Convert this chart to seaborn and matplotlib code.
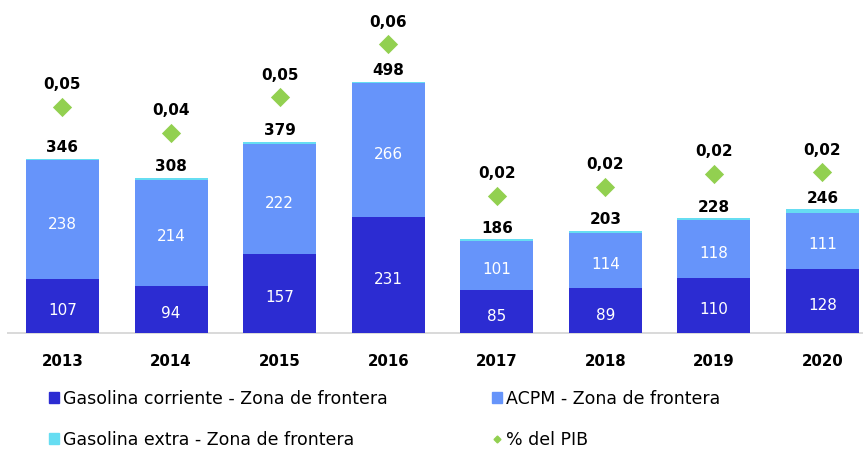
import matplotlib
matplotlib.use("Agg")
import matplotlib.pyplot as plt
import matplotlib.patches as mpatches
from matplotlib.lines import Line2D
import numpy as np
import seaborn as sns

sns.set_style("white")
plt.rcParams["font.family"] = ["DejaVu Sans"]
plt.rcParams["text.color"] = "black"
plt.rcParams["xtick.color"] = "black"

# Data
years = ["2013", "2014", "2015", "2016", "2017", "2018", "2019", "2020"]
corriente = [107, 94, 157, 231, 85, 89, 110, 128]
acpm = [238, 214, 222, 266, 101, 114, 118, 111]
extra = [3.5, 3.5, 3.5, 2.5, 3.5, 3.5, 3.5, 7.5]
totals = [346, 308, 379, 498, 186, 203, 228, 246]
pct_pib = [0.0452, 0.0372, 0.0483, 0.0648, 0.0176, 0.0202, 0.0243, 0.0248]

c_corr = "#2C2CD2"
c_acpm = "#6694FA"
c_extra = "#66DDF2"
c_pib = "#92D050"

# Cumulative stack levels (top of each bar is the stated total)
level3 = np.array(totals, dtype=float)
level2 = level3 - np.array(extra)
level1 = np.array(corriente, dtype=float)

W, H = 863, 451
fig = plt.figure(figsize=(W / 100, H / 100), dpi=100)
base_px = 333.3
left_px = 8.2
ax = fig.add_axes([left_px / W, (H - base_px) / H, (W - left_px) / W, base_px / H])

bw = 0.672
for vals, col in [(level3, c_extra), (level2, c_acpm), (level1, c_corr)]:
    sns.barplot(x=years, y=vals, color=col, width=bw, saturation=1,
                linewidth=0, ax=ax, zorder=3)

step_px = 108.57
ax.set_xlim(-0.5, -0.5 + (W - left_px) / step_px)
ax.set_ylim(0, base_px / 0.5046)

for s in ["top", "left", "right"]:
    ax.spines[s].set_visible(False)
ax.spines["bottom"].set_color("#D9D9D9")
ax.spines["bottom"].set_linewidth(1.4)
ax.spines["bottom"].set_zorder(2)
ax.set_yticks([])
ax.set_xlabel("")
ax.set_ylabel("")
ax.tick_params(axis="x", length=0, pad=15, labelcolor="black")
for t in ax.get_xticklabels():
    t.set_fontweight("bold")
    t.set_fontsize(10.8)

# Segment and total labels
for i in range(len(years)):
    ax.annotate(f"{corriente[i]}", (i, level1[i] / 2), xytext=(0, -3),
                textcoords="offset points", ha="center", va="center",
                color="white", fontsize=11, zorder=5)
    ax.annotate(f"{acpm[i]}", (i, (level1[i] + level2[i]) / 2), xytext=(0, -3),
                textcoords="offset points", ha="center", va="center",
                color="white", fontsize=11, zorder=5)
    ax.annotate(f"{totals[i]}", (i, level3[i]), xytext=(0, 8),
                textcoords="offset points", ha="center", va="center",
                color="black", fontsize=11, fontweight="bold", zorder=5)

# Share of GDP on a secondary axis
ax2 = ax.twinx()
k = 3200.0
c0 = 0.0787
ax2.set_ylim(c0 - base_px / k, c0)
sns.scatterplot(x=np.arange(len(years)), y=pct_pib, marker="D", s=96,
                color=c_pib, linewidth=0, ax=ax2, zorder=4)
ax2.set_xlim(ax.get_xlim())
for i, v in enumerate(pct_pib):
    ax2.annotate(f"{v:.2f}".replace(".", ","), (i, v), xytext=(0, 16),
                 textcoords="offset points", ha="center", va="center",
                 color="black", fontsize=11, fontweight="bold")
for s in ax2.spines.values():
    s.set_visible(False)
ax2.set_yticks([])
ax2.set_ylabel("")

# Legend, two columns
h_corr = mpatches.Patch(color=c_corr, label="Gasolina corriente - Zona de frontera")
h_extra = mpatches.Patch(color=c_extra, label="Gasolina extra - Zona de frontera")
h_acpm = mpatches.Patch(color=c_acpm, label="ACPM - Zona de frontera")
h_pib = Line2D([], [], marker="D", linestyle="none", color=c_pib,
               markersize=3.5, label="% del PIB")

leg_kw = dict(frameon=False, fontsize=12.5, loc="upper left",
              handlelength=0.58, handleheight=0.58, handletextpad=0.25,
              labelspacing=1.3, borderpad=0, borderaxespad=0,
              labelcolor="black")
leg1 = fig.legend(handles=[h_corr, h_extra], bbox_to_anchor=(49 / W, 1 - 390 / H), **leg_kw)
leg2 = fig.legend(handles=[h_acpm, h_pib], bbox_to_anchor=(492 / W, 1 - 390 / H), **leg_kw)

fig.savefig("out.png", dpi=100)
